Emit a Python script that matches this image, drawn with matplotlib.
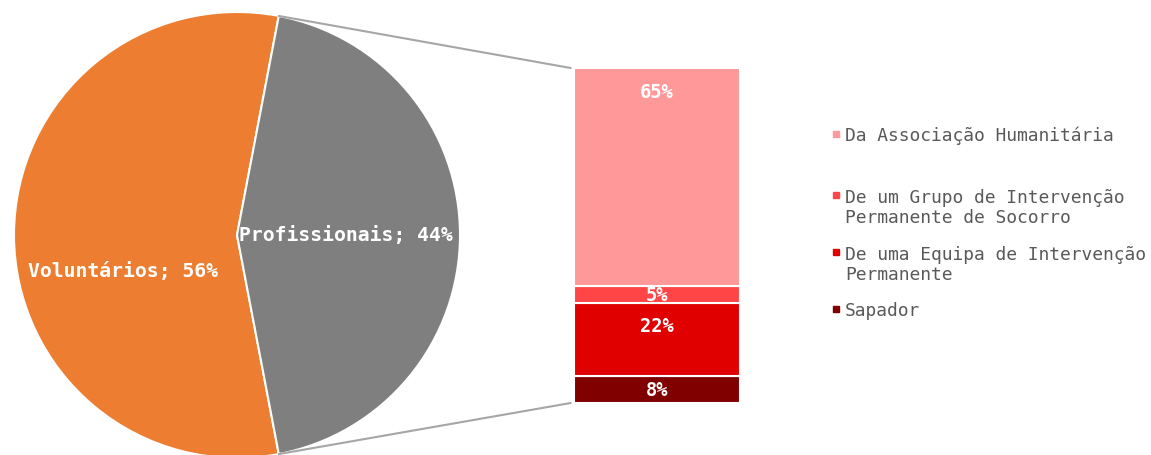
import numpy as np
import matplotlib
matplotlib.use("Agg")
import matplotlib.pyplot as plt
from matplotlib.patches import ConnectionPatch, Rectangle

# pie data
pie_labels = ['Voluntários', 'Profissionais']
pie_values = [56, 44]
pie_colors = ['#ED7D31', '#7F7F7F']

# bar data (breakdown of Profissionais), listed from bottom to top
bar_labels = ['Sapador',
              'De uma Equipa de Intervenção\nPermanente',
              'De um Grupo de Intervenção\nPermanente de Socorro',
              'Da Associação Humanitária']
bar_values = [8, 22, 5, 65]
bar_colors = ['#800000', '#E00000', '#FF4545', '#FF9999']

W, H = 1151, 456
fig = plt.figure(figsize=(W / 100, H / 100), dpi=100)
mono = 'DejaVu Sans Mono'

# pie: centre (237, 236) px, radius 223 px
cx, cy, r = 237, 236, 223
ax1 = fig.add_axes([(cx - r) / W, (H - cy - r) / H, 2 * r / W, 2 * r / H])
half = pie_values[1] / sum(pie_values) * 180
wedges, _ = ax1.pie(pie_values, colors=pie_colors, startangle=half,
                    wedgeprops=dict(edgecolor='white', linewidth=1.5))
ax1.set_xlim(-1, 1)
ax1.set_ylim(-1, 1)
ax1.set_aspect('equal')
ax1.axis('off')

label_r = [0.51, 0.49]
label_shift = [-0.16, 0.0]
for w, lab, val, lr, sh in zip(wedges, pie_labels, pie_values, label_r, label_shift):
    th = np.deg2rad((w.theta1 + w.theta2) / 2)
    ax1.text(lr * np.cos(th), lr * np.sin(th) + sh, f'{lab}; {val}%',
             ha='center', va='center', color='white', fontsize=14.2,
             fontweight='bold', family=mono)

# bar: x 574..740 px, y 69..404 px
bx0, bx1, by0, by1 = 574, 740, 69, 404
ax2 = fig.add_axes([bx0 / W, (H - by1) / H, (bx1 - bx0) / W, (by1 - by0) / H])
bottom = 0
for val, col in zip(bar_values, bar_colors):
    ax2.bar(0, val, width=1, bottom=bottom, color=col,
            edgecolor='white', linewidth=1.5)
    top = bottom + val
    ax2.text(0, top - min(val / 2, 7), f'{val}%', ha='center', va='center',
             color='white', fontsize=13.5, fontweight='bold', family=mono)
    bottom = top
ax2.set_xlim(-0.5, 0.5)
ax2.set_ylim(0, sum(bar_values))
ax2.axis('off')

# connector lines from the grey wedge to the bar
gw = wedges[1]
for ang, yb in [(gw.theta2, sum(bar_values)), (gw.theta1, 0)]:
    t = np.deg2rad(ang)
    con = ConnectionPatch(xyA=(np.cos(t), np.sin(t)), coordsA=ax1.transData,
                          xyB=(-0.52, yb), coordsB=ax2.transData,
                          color='#A6A6A6', linewidth=1.5)
    fig.add_artist(con)

# legend (top to bottom), first-line centres in px
leg_y = [135, 196, 253, 310]
line_px = 21
for lab, col, y in zip(bar_labels[::-1], bar_colors[::-1], leg_y):
    n = lab.count('\n')
    fig.text(845 / W, 1 - (y + 6 + n * line_px) / H, lab, ha='left',
             va='baseline', fontsize=12.9, family=mono, color='#595959',
             linespacing=1.15)
    fig.add_artist(Rectangle((833 / W, 1 - (y + 3) / H), 6 / W, 6 / H,
                             transform=fig.transFigure, color=col))

fig.savefig('out.png', dpi=100)
